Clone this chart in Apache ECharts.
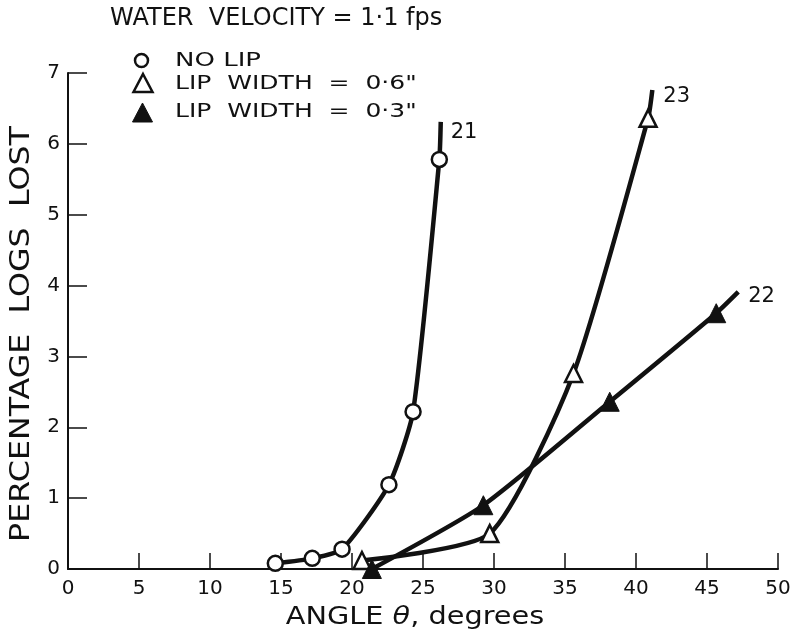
<!DOCTYPE html>
<html>
<head>
<meta charset="utf-8">
<script src="https://cdn.jsdelivr.net/npm/echarts@6/dist/echarts.min.js"></script>
<style>
  html, body { margin: 0; padding: 0; background: #fff; }
  #chart { width: 797px; height: 637px; }
</style>
</head>
<body>
<div id="chart"></div>
<script>
// Angle (degrees) and percentage of logs lost, one pair of arrays per lip configuration
const angleNoLip = [14.6, 17.2, 19.3, 22.6, 24.3, 26.15];
const lossNoLip  = [0.08, 0.15, 0.28, 1.19, 2.22, 5.78];
const tailNoLip  = [26.25, 6.31];   // where the fitted curve 21 ends

const angleLip06 = [20.7, 29.7, 35.6, 40.85];
const lossLip06  = [0.12, 0.50, 2.76, 6.36];
const tailLip06  = [41.15, 6.76];   // end of curve 23

const angleLip03 = [21.4, 29.25, 38.15, 45.65];
const lossLip03  = [0.0, 0.90, 2.36, 3.61];
const tailLip03  = [47.2, 3.91];    // end of curve 22

const xTicks = [0, 5, 10, 15, 20, 25, 30, 35, 40, 45, 50];
const yTicks = [0, 1, 2, 3, 4, 5, 6, 7];

const curveIds = ['21', '23', '22'];

const FONT = 'DejaVu Sans';
const INK = '#111';

function buildData(xs, ys, tail) {
  const pts = xs.map((x, i) => [x, ys[i]]);
  pts.push({ value: tail, symbol: 'none' });
  return pts;
}

function curveTag(id, offset) {
  return {
    show: true, formatter: id, distance: 5, offset: offset,
    fontFamily: FONT, fontSize: 21, color: INK
  };
}

const chart = echarts.init(document.getElementById('chart'), null, { renderer: 'canvas' });

const lineBase = {
  type: 'line',
  smooth: 0.2,
  clip: false,
  lineStyle: { color: INK, width: 4.5 },
  itemStyle: { color: '#fff', borderColor: INK, borderWidth: 2.5 },
  emphasis: { disabled: true },
  labelLayout: { hideOverlap: false },
  z: 3
};

// wide-set lettering: text is stretched horizontally about its anchor
function letter(text, x, y, size, scaleX) {
  return {
    type: 'text', x: x, y: y, scaleX: scaleX,
    style: {
      text: text, fontFamily: FONT, fontSize: size, fill: INK,
      align: 'left', verticalAlign: 'middle'
    }
  };
}

chart.setOption({
  animation: false,
  backgroundColor: '#fff',
  grid: { left: 68, right: 19, top: 73, bottom: 68, containLabel: false, outerBoundsMode: 'none' },
  xAxis: {
    type: 'value', min: 0, max: 50, interval: 5,
    axisLine: { show: true, onZero: false, lineStyle: { color: INK, width: 2 } },
    axisTick: { show: true, inside: true, length: 16, lineStyle: { color: INK, width: 1.5 } },
    axisLabel: {
      fontFamily: FONT, fontSize: 20, color: INK, margin: 10,
      formatter: v => xTicks.includes(v) ? String(v) : ''
    },
    splitLine: { show: false }
  },
  yAxis: {
    type: 'value', min: 0, max: 7, interval: 1,
    axisLine: { show: true, onZero: false, lineStyle: { color: INK, width: 2 } },
    axisTick: { show: true, inside: true, length: 19, lineStyle: { color: INK, width: 1.5 } },
    axisLabel: {
      fontFamily: FONT, fontSize: 20, color: INK, margin: 8,
      formatter: v => yTicks.includes(v) ? String(v) : ''
    },
    splitLine: { show: false }
  },
  series: [
    Object.assign({}, lineBase, {
      name: 'NO LIP', symbol: 'circle', symbolSize: 15,
      endLabel: curveTag(curveIds[0], [5, 11]),
      data: buildData(angleNoLip, lossNoLip, tailNoLip)
    }),
    Object.assign({}, lineBase, {
      name: 'LIP WIDTH = 0·6"', symbol: 'triangle', symbolSize: [17, 17],
      endLabel: curveTag(curveIds[1], [6, 7]),
      data: buildData(angleLip06, lossLip06, tailLip06)
    }),
    Object.assign({}, lineBase, {
      name: 'LIP WIDTH = 0·3"', symbol: 'triangle', symbolSize: [19, 19],
      itemStyle: { color: INK, borderColor: INK, borderWidth: 1 },
      endLabel: curveTag(curveIds[2], [5, 5]),
      data: buildData(angleLip03, lossLip03, tailLip03)
    })
  ],
  graphic: [
    // heading
    letter('WATER  VELOCITY = 1·1 fps', 110, 19, 24, 1.0),
    // axis titles
    {
      type: 'text', x: 415, y: 617, scaleX: 1.15,
      style: {
        text: 'ANGLE {it|θ}, degrees', fontFamily: FONT, fontSize: 25, fill: INK,
        align: 'center', verticalAlign: 'middle',
        rich: { it: { fontFamily: FONT, fontSize: 25, fontStyle: 'italic', fill: INK } }
      }
    },
    {
      type: 'text', x: 22, y: 334, rotation: Math.PI / 2, scaleX: 1.22,
      style: {
        text: 'PERCENTAGE  LOGS  LOST', fontFamily: FONT, fontSize: 26, fill: INK,
        align: 'center', verticalAlign: 'middle'
      }
    },
    // key
    { type: 'circle', shape: { cx: 141.5, cy: 60.5, r: 6.5 },
      style: { fill: '#fff', stroke: INK, lineWidth: 2.5 } },
    { type: 'polygon', shape: { points: [[143, 74], [152.5, 92], [133.5, 92]] },
      style: { fill: '#fff', stroke: INK, lineWidth: 2.5 } },
    { type: 'polygon', shape: { points: [[142.5, 103], [152.5, 122], [132.5, 122]] },
      style: { fill: INK, stroke: INK, lineWidth: 1 } },
    letter('NO LIP', 175, 61, 20, 1.3),
    letter('LIP  WIDTH  =  0·6"', 175, 84, 20, 1.25),
    letter('LIP  WIDTH  =  0·3"', 175, 112, 20, 1.25)
  ]
});
</script>
</body>
</html>
